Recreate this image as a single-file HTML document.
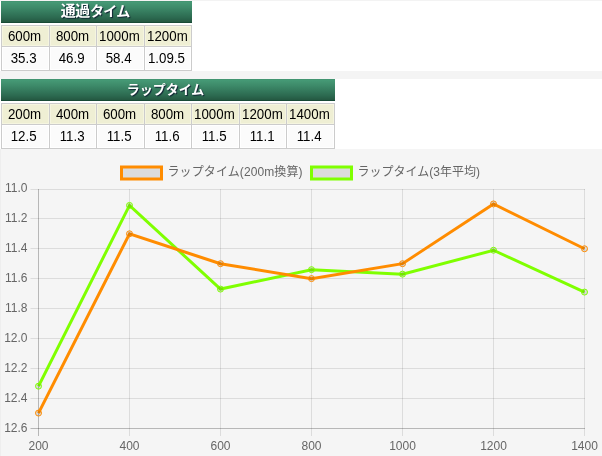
<!DOCTYPE html>
<html lang="ja"><head><meta charset="utf-8"><title>タイム</title>
<style>
html,body{margin:0;padding:0}
body{width:602px;height:456px;position:relative;overflow:hidden;background:#fff;font-family:"Liberation Sans","Noto Sans CJK JP",sans-serif}
.band{position:absolute;left:0;width:602px;background:#f4f4f4}
.tb{position:absolute;height:70px;will-change:transform}
.cap{position:absolute;left:0;top:0;right:0;height:22px;background:linear-gradient(#3f8f6c,#469a76 1px,#3d8a69 30%,#2c6a50 75%,#245841 21px,#174a35 21px);color:#fff;font-weight:bold;font-size:14px;line-height:20px;text-align:center;text-shadow:1px 1px 1px #123;font-family:"Liberation Sans","Noto Sans CJK JP",sans-serif}
.grid{position:absolute;left:0;height:46px;background:#ccc}
.th,.td{position:absolute;font-size:14px;text-align:center;color:#000;white-space:nowrap}
.th span,.td span{display:inline-block;transform:scaleX(0.95)}
.th{top:25px;height:20px;line-height:21px;background:#efefd4;margin-left:1px;box-shadow:inset 0 0 0 1px #f5f5e0}
.td{top:46px;height:23px;line-height:22px;background:#fbfbfb;margin-left:1px;box-shadow:inset 0 0 0 1px #fff}
.td span{position:relative;left:-1.4px}
.th span{position:relative;left:-0.7px}
.chart{position:absolute;left:0;top:0;will-change:transform}
.ax{font:12px "Liberation Sans",sans-serif;fill:#666}
.lg{font:12px "Liberation Sans","Noto Sans CJK JP",sans-serif;fill:#666}
</style></head><body>
<div class="band" style="top:0;height:1px;background:#f3f3f3"></div>
<div class="band" style="top:71px;height:8px"></div>
<div class="band" style="top:149px;height:307px;background:#f5f5f5"></div>
<div class="band" style="top:149px;height:307px;width:1px;background:#eee"></div>
<div class="tb" style="left:1px;top:1px;width:191px">
<div class="cap" style="padding-right:3px"><span style="font-size:15px;letter-spacing:-0.3px">通過</span><span style="letter-spacing:-0.8px">タイム</span></div>
<div class="grid" style="top:24px;width:191px"></div>
<div class="th" style="left:0px;width:47px"><span>600m</span></div>
<div class="td" style="left:0px;width:47px"><span>35.3</span></div>
<div class="th" style="left:48px;width:46px"><span>800m</span></div>
<div class="td" style="left:48px;width:46px"><span>46.9</span></div>
<div class="th" style="left:95px;width:47px"><span>1000m</span></div>
<div class="td" style="left:95px;width:47px"><span>58.4</span></div>
<div class="th" style="left:143px;width:46px"><span>1200m</span></div>
<div class="td" style="left:143px;width:46px"><span>1.09.5</span></div>
</div>
<div class="tb" style="left:1px;top:79px;width:334px">
<div class="cap" style="font-size:13px;letter-spacing:0;padding-right:5px;line-height:21px">ラップタイム</div>
<div class="grid" style="top:24px;width:334px"></div>
<div class="th" style="left:0px;width:47px"><span>200m</span></div>
<div class="td" style="left:0px;width:47px"><span>12.5</span></div>
<div class="th" style="left:48px;width:46px"><span>400m</span></div>
<div class="td" style="left:48px;width:46px"><span>11.3</span></div>
<div class="th" style="left:95px;width:47px"><span>600m</span></div>
<div class="td" style="left:95px;width:47px"><span>11.5</span></div>
<div class="th" style="left:143px;width:46px"><span>800m</span></div>
<div class="td" style="left:143px;width:46px"><span>11.6</span></div>
<div class="th" style="left:190px;width:47px"><span>1000m</span></div>
<div class="td" style="left:190px;width:47px"><span>11.5</span></div>
<div class="th" style="left:238px;width:46px"><span>1200m</span></div>
<div class="td" style="left:238px;width:46px"><span>11.1</span></div>
<div class="th" style="left:285px;width:47px"><span>1400m</span></div>
<div class="td" style="left:285px;width:47px"><span>11.4</span></div>
</div>
<svg class="chart" width="602" height="456" viewBox="0 0 602 456"><line x1="30.5" x2="585" y1="189.5" y2="189.5" stroke="rgba(0,0,0,0.1)" stroke-width="1"/><line x1="30.5" x2="585" y1="218.5" y2="218.5" stroke="rgba(0,0,0,0.1)" stroke-width="1"/><line x1="30.5" x2="585" y1="248.5" y2="248.5" stroke="rgba(0,0,0,0.1)" stroke-width="1"/><line x1="30.5" x2="585" y1="278.5" y2="278.5" stroke="rgba(0,0,0,0.1)" stroke-width="1"/><line x1="30.5" x2="585" y1="308.5" y2="308.5" stroke="rgba(0,0,0,0.1)" stroke-width="1"/><line x1="30.5" x2="585" y1="338.5" y2="338.5" stroke="rgba(0,0,0,0.1)" stroke-width="1"/><line x1="30.5" x2="585" y1="368.5" y2="368.5" stroke="rgba(0,0,0,0.1)" stroke-width="1"/><line x1="30.5" x2="585" y1="398.5" y2="398.5" stroke="rgba(0,0,0,0.1)" stroke-width="1"/><line x1="30.5" x2="585" y1="428.5" y2="428.5" stroke="rgba(0,0,0,0.25)" stroke-width="1"/><line x1="38.5" x2="38.5" y1="189" y2="436" stroke="rgba(0,0,0,0.25)" stroke-width="1"/><line x1="129.5" x2="129.5" y1="189" y2="436" stroke="rgba(0,0,0,0.1)" stroke-width="1"/><line x1="220.5" x2="220.5" y1="189" y2="436" stroke="rgba(0,0,0,0.1)" stroke-width="1"/><line x1="311.5" x2="311.5" y1="189" y2="436" stroke="rgba(0,0,0,0.1)" stroke-width="1"/><line x1="402.5" x2="402.5" y1="189" y2="436" stroke="rgba(0,0,0,0.1)" stroke-width="1"/><line x1="493.5" x2="493.5" y1="189" y2="436" stroke="rgba(0,0,0,0.1)" stroke-width="1"/><line x1="584.5" x2="584.5" y1="189" y2="436" stroke="rgba(0,0,0,0.1)" stroke-width="1"/><text class="ax" x="27.5" y="192.0" text-anchor="end">11.0</text><text class="ax" x="27.5" y="222.0" text-anchor="end">11.2</text><text class="ax" x="27.5" y="252.0" text-anchor="end">11.4</text><text class="ax" x="27.5" y="282.0" text-anchor="end">11.6</text><text class="ax" x="27.5" y="312.0" text-anchor="end">11.8</text><text class="ax" x="27.5" y="342.0" text-anchor="end">12.0</text><text class="ax" x="27.5" y="372.0" text-anchor="end">12.2</text><text class="ax" x="27.5" y="402.0" text-anchor="end">12.4</text><text class="ax" x="27.5" y="432.0" text-anchor="end">12.6</text><text class="ax" x="38.5" y="450.3" text-anchor="middle">200</text><text class="ax" x="129.5" y="450.3" text-anchor="middle">400</text><text class="ax" x="220.5" y="450.3" text-anchor="middle">600</text><text class="ax" x="311.5" y="450.3" text-anchor="middle">800</text><text class="ax" x="402.5" y="450.3" text-anchor="middle">1000</text><text class="ax" x="493.5" y="450.3" text-anchor="middle">1200</text><text class="ax" x="584.5" y="450.3" text-anchor="middle">1400</text><polyline points="38.5,386.18 129.5,205.43 220.5,289.08 311.5,269.66 402.5,274.14 493.5,250.24 584.5,292.07" fill="none" stroke="#7fff00" stroke-width="3" stroke-linejoin="miter"/><circle cx="38.5" cy="386.18" r="3" fill="rgba(0,0,0,0.1)" stroke="#7fff00" stroke-width="1"/><circle cx="129.5" cy="205.43" r="3" fill="rgba(0,0,0,0.1)" stroke="#7fff00" stroke-width="1"/><circle cx="220.5" cy="289.08" r="3" fill="rgba(0,0,0,0.1)" stroke="#7fff00" stroke-width="1"/><circle cx="311.5" cy="269.66" r="3" fill="rgba(0,0,0,0.1)" stroke="#7fff00" stroke-width="1"/><circle cx="402.5" cy="274.14" r="3" fill="rgba(0,0,0,0.1)" stroke="#7fff00" stroke-width="1"/><circle cx="493.5" cy="250.24" r="3" fill="rgba(0,0,0,0.1)" stroke="#7fff00" stroke-width="1"/><circle cx="584.5" cy="292.07" r="3" fill="rgba(0,0,0,0.1)" stroke="#7fff00" stroke-width="1"/><polyline points="38.5,413.06 129.5,233.81 220.5,263.69 311.5,278.62 402.5,263.69 493.5,203.94 584.5,248.75" fill="none" stroke="#ff8c00" stroke-width="3" stroke-linejoin="miter"/><circle cx="38.5" cy="413.06" r="3" fill="rgba(0,0,0,0.1)" stroke="#ff8c00" stroke-width="1"/><circle cx="129.5" cy="233.81" r="3" fill="rgba(0,0,0,0.1)" stroke="#ff8c00" stroke-width="1"/><circle cx="220.5" cy="263.69" r="3" fill="rgba(0,0,0,0.1)" stroke="#ff8c00" stroke-width="1"/><circle cx="311.5" cy="278.62" r="3" fill="rgba(0,0,0,0.1)" stroke="#ff8c00" stroke-width="1"/><circle cx="402.5" cy="263.69" r="3" fill="rgba(0,0,0,0.1)" stroke="#ff8c00" stroke-width="1"/><circle cx="493.5" cy="203.94" r="3" fill="rgba(0,0,0,0.1)" stroke="#ff8c00" stroke-width="1"/><circle cx="584.5" cy="248.75" r="3" fill="rgba(0,0,0,0.1)" stroke="#ff8c00" stroke-width="1"/><rect x="121.5" y="167" width="40" height="12" fill="rgba(0,0,0,0.1)" stroke="#ff8c00" stroke-width="3"/><text class="lg" x="167.5" y="176.3" style="letter-spacing:0.1px">ラップタイム(200m換算)</text><rect x="311.5" y="167" width="40" height="12" fill="rgba(0,0,0,0.1)" stroke="#7fff00" stroke-width="3"/><text class="lg" x="357.5" y="176.3">ラップタイム(3年平均)</text></svg>
</body></html>
